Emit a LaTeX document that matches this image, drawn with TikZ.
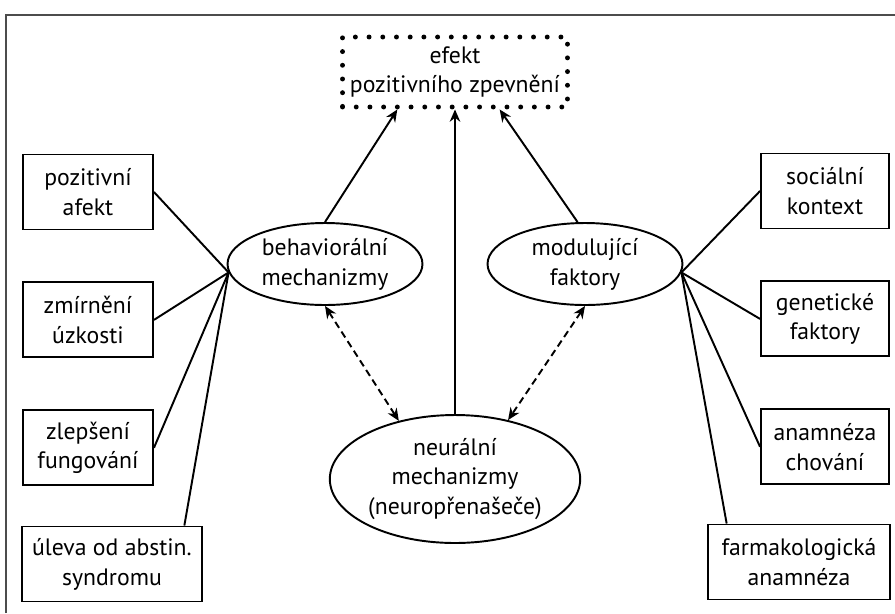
\documentclass[tikz,border=0pt]{standalone}
\usepackage{fontspec}
\setmainfont{PT Sans}
\usepackage{tikz}
\usetikzlibrary{arrows.meta,positioning,shapes.geometric}

\begin{document}
\begin{tikzpicture}[x=0.02cm,y=-0.02cm,node distance=1.02cm,>={Stealth[length=7pt,width=6pt]},font=\fontsize{13.5}{17}\selectfont]
\tikzset{factor/.style={draw,line width=1.1pt,minimum width=2.6cm,minimum height=1.5cm,align=center,inner sep=2pt},
         mech/.style={draw,line width=1.1pt,ellipse,minimum width=3.9cm,minimum height=1.64cm,align=center,inner sep=1pt},
         effect/.style={draw,line width=2.8pt,dash pattern=on 0pt off 7.8pt,line cap=round,minimum width=4.5cm,minimum height=1.4cm,align=center},
         link/.style={line width=1.1pt},
         dlink/.style={line width=1.1pt,dash pattern=on 4pt off 2.5pt,<->}}
\useasboundingbox (0,0) rectangle (895,613);
\draw[black!70,line width=0.8pt] (6,613) |- (895,15);
% centre
\node[effect] (eff) at (455,72) {efekt\\pozitivního zpevnění};
\node[mech] (beh) at (325,264) {behaviorální\\mechanizmy};
\node[mech] (mod) at (585,264) {modulující\\faktory};
\node[mech,minimum width=4.52cm,minimum height=2.56cm] (neu) at (455,479) {neurální\\mechanizmy\\(neuropřenašeče)};
% left column
\node[factor] (afekt) at (88,192) {pozitivní\\afekt};
\node[factor,below=of afekt] (uzkost) {zmírnění\\úzkosti};
\node[factor,below=of uzkost] (fung) {zlepšení\\fungování};
\node[factor,minimum width=3.6cm] (abst) at (112,564) {úleva od abstin.\\syndromu};
% right column
\node[factor,minimum width=2.56cm] (soc) at (825,191) {sociální\\kontext};
\node[factor,minimum width=2.56cm,below=of soc] (gen) {genetické\\faktory};
\node[factor,minimum width=2.56cm,below=of gen] (anam) {anamnéza\\chování};
\node[factor,minimum width=3.64cm] (farm) at (799,562) {farmakologická\\anamnéza};
\draw[link] (afekt.east) -- (beh.185);
\draw[link] (uzkost.east) -- (beh.185);
\draw[link] (fung.east) -- (beh.185);
\draw[link] (abst.28) -- (beh.185);
\draw[link] (soc.west) -- (mod.355);
\draw[link] (gen.west) -- (mod.355);
\draw[link] (anam.west) -- (mod.355);
\draw[link] (farm.152) -- (mod.355);
\draw[link,->] (beh.north) -- (eff.213);
\draw[link,->] (neu.north) -- (eff.south);
\draw[link,->] (mod.100) -- (eff.320);
\draw[dlink] (beh.south) -- (neu.134);
\draw[dlink] (mod.south) -- (neu.48);
\end{tikzpicture}
\end{document}
